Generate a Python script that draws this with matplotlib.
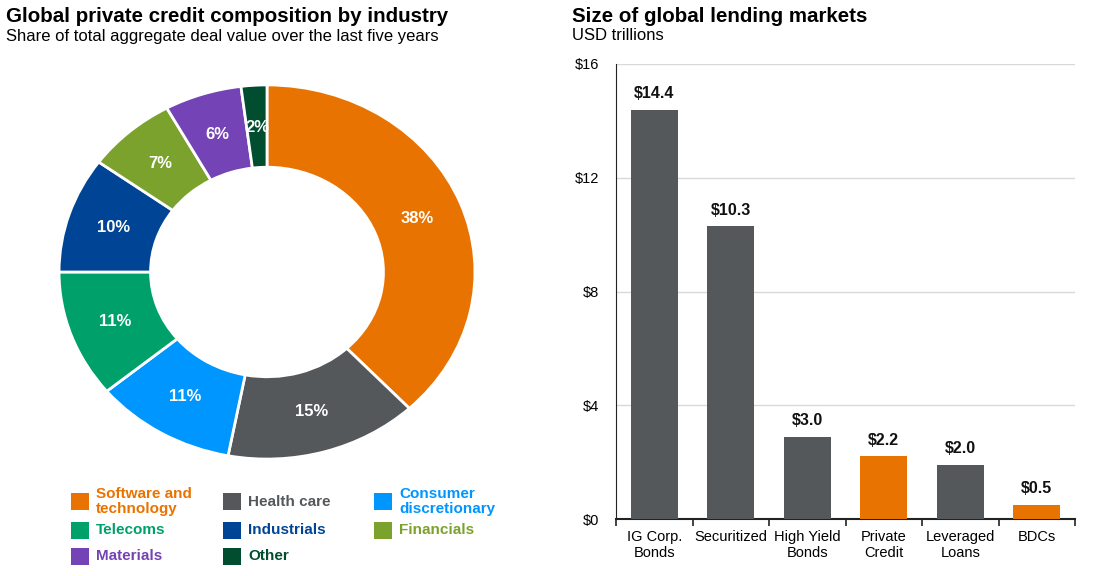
import matplotlib
matplotlib.use('Agg')
import matplotlib.pyplot as plt
import matplotlib.patches as patches
import numpy as np

plt.rcParams['font.family'] = ['Liberation Sans', 'DejaVu Sans']

# Pie data
industries = ['Software and\ntechnology', 'Health care', 'Consumer\ndiscretionary',
              'Telecoms', 'Industrials', 'Financials', 'Materials', 'Other']
shares = [38, 15, 11, 11, 10, 7, 6, 2]
pie_colors = ['#E97300', '#54585B', '#0096FF', '#00A06B', '#004595',
              '#7CA22E', '#7443B6', '#004D30']

# Bar data
markets = ['IG Corp.\nBonds', 'Securitized', 'High Yield\nBonds', 'Private\nCredit',
           'Leveraged\nLoans', 'BDCs']
sizes = [14.4, 10.3, 2.9, 2.2, 1.9, 0.5]
size_labels = ['$14.4', '$10.3', '$3.0', '$2.2', '$2.0', '$0.5']
bar_colors = ['#54585B', '#54585B', '#54585B', '#E97300', '#54585B', '#E97300']

W, H = 1110, 576
fig = plt.figure(figsize=(W / 100, H / 100), dpi=100)

def fx(px):
    return px / W

def fy(py):
    return 1 - py / H

# Titles
fig.text(fx(6), fy(17), 'Global private credit composition by industry',
         fontsize=14.8, fontweight='bold', va='center', ha='left')
fig.text(fx(6), fy(36), 'Share of total aggregate deal value over the last five years',
         fontsize=12, va='center', ha='left')
fig.text(fx(572), fy(17), 'Size of global lending markets',
         fontsize=14.8, fontweight='bold', va='center', ha='left')
fig.text(fx(572), fy(36), 'USD trillions', fontsize=12, va='center', ha='left')

# Donut chart (slightly flattened, as in the original)
ax1 = fig.add_axes([fx(58), fy(460), 418 / W, 376 / H])
wedges, _ = ax1.pie(shares, colors=pie_colors, startangle=90, counterclock=False,
                    radius=1.0, wedgeprops=dict(width=0.44, edgecolor='white', linewidth=2))
ax1.set_xlim(-1.005, 1.005)
ax1.set_ylim(-1.005, 1.005)
ax1.set_aspect('auto')
for w, s in zip(wedges, shares):
    ang = np.deg2rad((w.theta1 + w.theta2) / 2)
    r = 0.775
    ax1.text(r * np.cos(ang), r * np.sin(ang), f'{s}%', color='white',
             fontsize=12, fontweight='bold', ha='center', va='center')

# Legend (row-major, 3 columns)
leg_cols = [71, 223, 374]
leg_rows = [501.5, 530.5, 556.5]
for i, (name, col) in enumerate(zip(industries, pie_colors)):
    cx = leg_cols[i % 3]
    cy = leg_rows[i // 3]
    fig.patches.append(patches.Rectangle((fx(cx), fy(cy + 8.5)), 18 / W, 17 / H,
                                         transform=fig.transFigure, facecolor=col,
                                         edgecolor='none'))
    fig.text(fx(cx + 25), fy(cy), name, color=col, fontsize=11, fontweight='bold',
             va='center', ha='left', linespacing=1.15)

# Bar chart
ax2 = fig.add_axes([fx(616), fy(519), (1075 - 616) / W, (519 - 64) / H])
x = np.arange(len(markets))
ax2.bar(x, sizes, width=0.62, color=bar_colors, zorder=3)
for xi, v, lab in zip(x, sizes, size_labels):
    ax2.text(xi, v + 0.3, lab, ha='center', va='bottom', fontsize=11.5,
             fontweight='bold', color='#111111')
ax2.set_ylim(0, 16)
ax2.set_xlim(-0.5, len(markets) - 0.5)
ax2.set_yticks([0, 4, 8, 12, 16])
ax2.set_yticklabels(['$0', '$4', '$8', '$12', '$16'], fontsize=10.5)
ax2.yaxis.grid(True, color='#D9D9D9', linewidth=1, zorder=0)
ax2.tick_params(axis='y', length=0, pad=12)
ax2.set_xticks(x)
ax2.set_xticklabels(markets, fontsize=10.5, linespacing=1.15)
ax2.set_xticks(np.arange(len(markets) + 1) - 0.5, minor=True)
ax2.tick_params(axis='x', which='major', length=0, pad=8)
ax2.tick_params(axis='x', which='minor', length=5, width=1.2, color='#222222')
for s in ['top', 'right']:
    ax2.spines[s].set_visible(False)
ax2.spines['left'].set_color('#222222')
ax2.spines['bottom'].set_color('#222222')
ax2.spines['bottom'].set_linewidth(1.5)

fig.savefig('out.png', dpi=100)
